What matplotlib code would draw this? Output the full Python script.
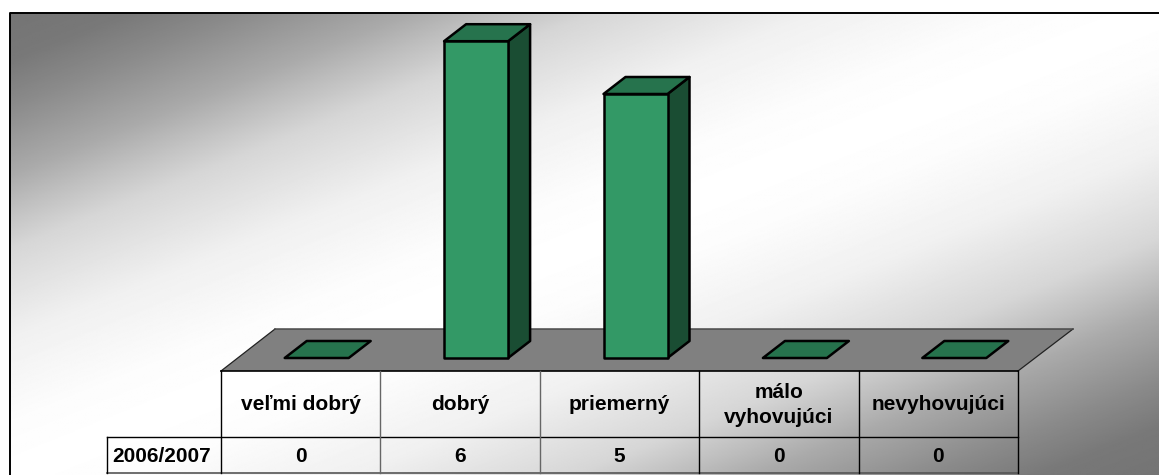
import numpy as np
import matplotlib
matplotlib.use('Agg')
import matplotlib.pyplot as plt
from matplotlib.patches import Polygon, Rectangle

# Dados do grafico
kategorie = ['veľmi dobrý', 'dobrý', 'priemerný', 'málo\nvyhovujúci', 'nevyhovujúci']
hodnoty = [0, 6, 5, 0, 0]
rok = '2006/2007'

W, H = 1159, 475
plt.rcParams['font.family'] = ['Liberation Sans', 'DejaVu Sans']

fig = plt.figure(figsize=(W / 100, H / 100), dpi=100)
ax = fig.add_axes([0, 0, 1, 1])
ax.set_xlim(0, W)
ax.set_ylim(H, 0)
ax.axis('off')

# Fundo com gradiente diagonal (cinza - branco - cinza)
ramka = Rectangle((9.5, 12.5), W, H, facecolor='none', edgecolor='none')
ax.add_patch(ramka)
xx, yy = np.meshgrid(np.linspace(0, 1, 800), np.linspace(0, 1, 400))
t = (xx + yy) / 2
d = 0.5 - np.abs(t - 0.5)
g = np.interp(d, [0, 0.05, 0.1, 0.175, 0.21, 0.255, 0.35, 0.44, 0.5],
              [116, 120, 138, 170, 190, 214, 240, 252, 255])
img = ax.imshow(g, cmap='gray', vmin=0, vmax=255, extent=[9.5, W, H, 12.5], aspect='auto', zorder=0)
img.set_clip_path(ramka)
ax.set_xlim(0, W)
ax.set_ylim(H, 0)
ax.plot([9.5, 9.5, W], [H, 12.5, 12.5], color='black', lw=1.4, zorder=1)

# Posicoes da tabela
x_tab = np.linspace(221, 1018, len(kategorie) + 1)
y_piso_frente = 371
y_piso_fundo = 329
y_linha = 437
y_fim = 473
x_rot = 107

# Piso
ax.add_patch(Polygon([(221, y_piso_frente), (275, y_piso_fundo), (1073, y_piso_fundo), (1018, y_piso_frente)],
                     closed=True, facecolor='#808080', edgecolor='none', zorder=2))
ax.plot([221, 275], [y_piso_frente, y_piso_fundo], color='#222222', lw=0.9, zorder=3)
ax.plot([1018, 1073], [y_piso_frente, y_piso_fundo], color='#222222', lw=0.9, zorder=3)
ax.plot([275, 1073], [y_piso_fundo, y_piso_fundo], color='#4a4a4a', lw=1.1, zorder=3)

# Barras 3D
y_zero = 358
px_por_unidade = 52.8
larg = 64
dx, dy = 22, -17
cw = x_tab[1] - x_tab[0]
for i, v in enumerate(hodnoty):
    x0 = x_tab[i] + cw / 2 + 16 - larg / 2
    x1 = x0 + larg
    yt = y_zero - v * px_por_unidade
    est = dict(edgecolor='black', lw=1.8, joinstyle='round', zorder=4)
    if v > 0:
        ax.add_patch(Polygon([(x1, y_zero), (x1 + dx, y_zero + dy), (x1 + dx, yt + dy), (x1, yt)],
                             closed=True, facecolor='#1a4d33', **est))
    ax.add_patch(Polygon([(x0, yt), (x0 + dx, yt + dy), (x1 + dx, yt + dy), (x1, yt)],
                         closed=True, facecolor='#26734d', **est))
    if v > 0:
        ax.add_patch(Polygon([(x0, y_zero), (x0, yt), (x1, yt), (x1, y_zero)],
                             closed=True, facecolor='#339966', **est))

# Tabela
ax.plot([221, 1018], [y_piso_frente, y_piso_frente], color='black', lw=1.2, zorder=3)
ax.plot([x_rot, 1018], [y_linha, y_linha], color='black', lw=1, zorder=3)
ax.plot([x_rot, 1018], [y_fim, y_fim], color='#555555', lw=1.2, zorder=3)
ax.plot([x_rot, x_rot], [y_linha, y_fim], color='black', lw=1, zorder=3)
for k, x in enumerate(x_tab):
    cor = 'black' if k == 0 or k >= 3 else '#666666'
    ax.plot([x, x], [y_piso_frente, y_fim], color=cor, lw=1, zorder=3)

# Textos
fs = 15
for i, nome in enumerate(kategorie):
    xc = (x_tab[i] + x_tab[i + 1]) / 2
    ax.text(xc, (y_piso_frente + y_linha) / 2 + 1, nome, ha='center', va='center', fontsize=fs,
            fontweight='bold', color='black', linespacing=1.4, zorder=5)
    ax.text(xc, (y_linha + y_fim) / 2 + 2, str(hodnoty[i]), ha='center', va='center', fontsize=fs,
            fontweight='bold', color='black', zorder=5)
ax.text((x_rot + 221) / 2 - 2, (y_linha + y_fim) / 2 + 2, rok, ha='center', va='center', fontsize=fs,
        fontweight='bold', color='black', zorder=5)

fig.savefig('out.png', dpi=100, facecolor='white')
